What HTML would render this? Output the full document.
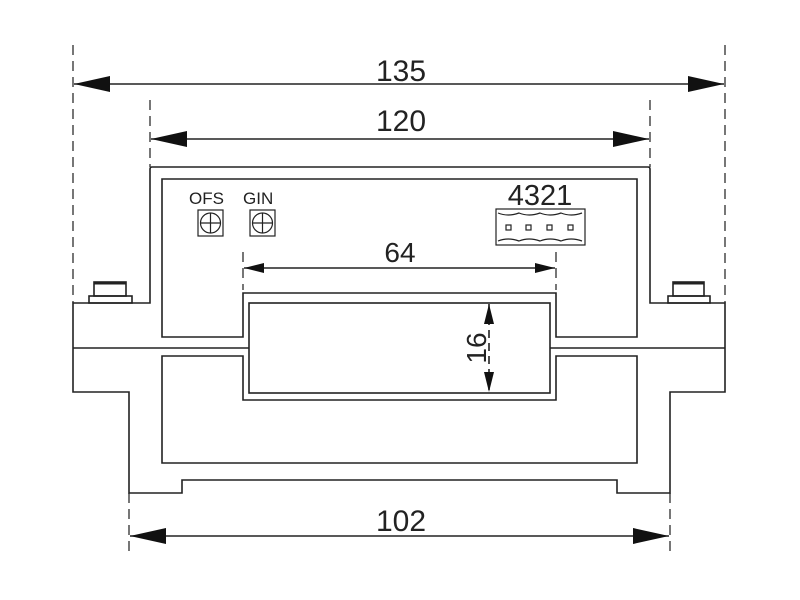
<!DOCTYPE html>
<html><head><meta charset="utf-8"><style>body{margin:0;background:#fff}svg{display:block}</style></head>
<body>
<svg width="800" height="600" viewBox="0 0 800 600" xmlns="http://www.w3.org/2000/svg" font-family="Liberation Sans, sans-serif" fill="none" stroke="#222" stroke-width="1.6">
<defs>
<marker id="a" viewBox="0 0 36 16" refX="36" refY="8" markerWidth="36" markerHeight="16" markerUnits="userSpaceOnUse" orient="auto-start-reverse"><path d="M36 8 L0 0 L0 16 Z" fill="#111" stroke="none"/></marker>
<marker id="b" viewBox="0 0 20 10" refX="20" refY="5" markerWidth="20" markerHeight="10" markerUnits="userSpaceOnUse" orient="auto-start-reverse"><path d="M20 5 L0 0 L0 10 Z" fill="#111" stroke="none"/></marker>
</defs>
<g stroke-dasharray="10,6" stroke="#555">
<line x1="73" y1="45" x2="73" y2="303"/><line x1="725" y1="45" x2="725" y2="303"/>
<line x1="150" y1="100" x2="150" y2="167"/><line x1="650" y1="100" x2="650" y2="167"/>
<line x1="129" y1="493" x2="129" y2="556"/><line x1="670" y1="493" x2="670" y2="556"/>
<line x1="243" y1="252" x2="243" y2="290"/><line x1="556" y1="252" x2="556" y2="290"/>
</g>
<line x1="74" y1="84" x2="724" y2="84" marker-start="url(#a)" marker-end="url(#a)"/>
<line x1="151" y1="139" x2="649" y2="139" marker-start="url(#a)" marker-end="url(#a)"/>
<line x1="130" y1="536" x2="669" y2="536" marker-start="url(#a)" marker-end="url(#a)"/>
<line x1="244" y1="268" x2="555" y2="268" marker-start="url(#b)" marker-end="url(#b)"/>
<line x1="489" y1="304" x2="489" y2="392" stroke-dasharray="8,5" marker-start="url(#b)" marker-end="url(#b)"/>
<path d="M150 303 L150 169 Q150 167 152 167 L648 167 Q650 167 650 169 L650 303 L725 303 L725 392 L670 392 L670 493 L617 493 L617 480 L182 480 L182 493 L129 493 L129 392 L73 392 L73 303 Z"/>
<path d="M162 179 L637 179 L637 337 L556 337 L556 293 L243 293 L243 337 L162 337 Z"/>
<path d="M162 356 L243 356 L243 400 L556 400 L556 356 L637 356 L637 463 L162 463 Z"/>
<rect x="249" y="303" width="301" height="90"/>
<line x1="73" y1="348" x2="249" y2="348"/><line x1="550" y1="348" x2="725" y2="348"/>
<rect x="89" y="296" width="43" height="7"/><rect x="94" y="282" width="32" height="14"/><line x1="94" y1="283" x2="126" y2="283" stroke-width="3"/>
<rect x="668" y="296" width="42" height="7"/><rect x="673" y="282" width="31" height="14"/><line x1="673" y1="283" x2="704" y2="283" stroke-width="3"/>
<g stroke-width="1.2">
<rect x="198" y="210" width="25" height="26"/><circle cx="210.5" cy="223" r="10"/><line x1="200.5" y1="223" x2="220.5" y2="223"/><line x1="210.5" y1="213" x2="210.5" y2="233"/>
<rect x="250" y="210" width="25" height="26"/><circle cx="262.5" cy="223" r="10"/><line x1="252.5" y1="223" x2="272.5" y2="223"/><line x1="262.5" y1="213" x2="262.5" y2="233"/>
<rect x="496" y="209" width="89" height="36"/>
<path d="M498 213 q10 4 21 0 q10 4 21 0 q10 4 21 0 q10 4 21 0"/>
<path d="M498 241 q10 -4 21 0 q10 -4 21 0 q10 -4 21 0 q10 -4 21 0"/>
<rect x="506" y="225" width="5" height="5"/><rect x="526" y="225" width="5" height="5"/><rect x="547" y="225" width="5" height="5"/><rect x="568" y="225" width="5" height="5"/>
</g>
<g fill="#222" stroke="none" font-size="30">
<text x="401" y="81" text-anchor="middle">135</text>
<text x="401" y="131" text-anchor="middle">120</text>
<text x="401" y="531" text-anchor="middle">102</text>
<text x="400" y="262" text-anchor="middle" font-size="28">64</text>
<text x="540" y="205" text-anchor="middle" font-size="29">4321</text>
<text transform="translate(486 348) rotate(-90)" text-anchor="middle" font-size="28">16</text>
<text x="189" y="204" font-size="17">OFS</text>
<text x="243" y="204" font-size="17">GIN</text>
</g>
</svg>
</body></html>
